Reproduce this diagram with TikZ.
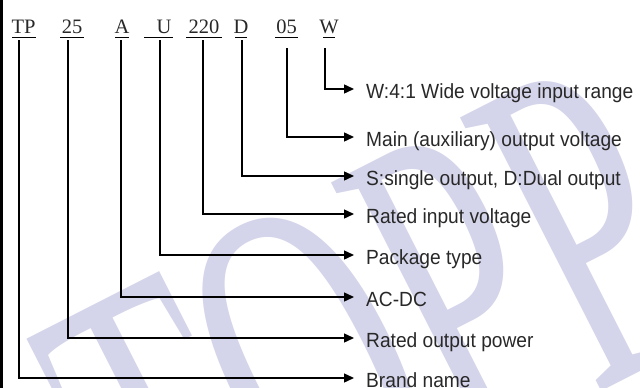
\documentclass[tikz,border=0pt]{standalone}
\usepackage{fontspec}
\usetikzlibrary{arrows.meta}
\newfontfamily\descfont[FakeStretch=0.935]{Liberation Sans}
\newfontfamily\codefont{Liberation Serif}
\newfontfamily\wmfont[FakeStretch=0.55]{Liberation Serif}
\definecolor{wm}{RGB}{212,212,234}
\definecolor{txt}{RGB}{40,40,40}
\begin{document}
\begin{tikzpicture}[x=1pt,y=-1pt,
  conn/.style={line width=1.4pt,-{Triangle[length=10pt,width=9pt]}},
  uline/.style={line width=1.3pt},
  desc/.style={font=\descfont\fontsize{20.5}{24}\selectfont,text=txt,inner sep=0pt,anchor=base west},
  code/.style={font=\codefont\fontsize{20.5}{24}\selectfont,text=txt,inner sep=0pt,anchor=base}]
\useasboundingbox (0,0) rectangle (640,388);
% watermark
\begin{scope}
\clip (0,0) rectangle (640,388);
\node[text=wm,font=\wmfont\fontsize{470}{470}\selectfont,rotate=27,inner sep=0pt] (wmark) at (372,336) {TOPP};
\end{scope}
% left border
\fill (0,0) rectangle (2.5,388);
% code letters
\node[code] (kTP) at (23.5,33.3) {TP};
\node[code] (k25) at (72,33.3) {25};
\node[code] (kA) at (122,33.3) {A};
\node[code] (kU) at (164,33.3) {U};
\node[code] (k220) at (204,33.3) {220};
\node[code] (kD) at (241,33.3) {D};
\node[code] (k05) at (286.5,33.3) {05};
\node[code] (kW) at (329,33.3) {W};
% underlines
\draw[uline] (12,37.5) -- (36,37.5);
\draw[uline] (60,37.5) -- (84,37.5);
\draw[uline] (115,37.5) -- (129,37.5);
\draw[uline] (144,37.5) -- (173,37.5);
\draw[uline] (186,37.5) -- (222,37.5);
\draw[uline] (235,37.5) -- (247,37.5);
\draw[uline] (275,37.5) -- (298,37.5);
\draw[uline] (323,37.5) -- (335,37.5);
% start points
\coordinate (sTP) at (19,40);
\coordinate (s25) at (68,40);
\coordinate (sA) at (121,40);
\coordinate (sU) at (160,40);
\coordinate (s220) at (203,40);
\coordinate (sD) at (242,40);
\coordinate (s05) at (287,48);
\coordinate (sW) at (325,48);
% arrow tips
\coordinate (aW) at (354,89);
\coordinate (a05) at (354,137);
\coordinate (aD) at (354,176);
\coordinate (a220) at (354,214);
\coordinate (aU) at (354,255);
\coordinate (aA) at (354,297);
\coordinate (a25) at (354,338);
\coordinate (aTP) at (354,378);
% descriptions
\node[desc] (dW) at ([xshift=12pt,yshift=-9.5pt]aW) {W:4:1 Wide voltage input range};
\node[desc] (d05) at ([xshift=12pt,yshift=-9.5pt]a05) {Main (auxiliary) output voltage};
\node[desc] (dD) at ([xshift=12pt,yshift=-9.5pt]aD) {S:single output, D:Dual output};
\node[desc] (d220) at ([xshift=12pt,yshift=-9.5pt]a220) {Rated input voltage};
\node[desc] (dU) at ([xshift=12pt,yshift=-9.5pt]aU) {Package type};
\node[desc] (dA) at ([xshift=12pt,yshift=-9.5pt]aA) {AC-DC};
\node[desc] (d25) at ([xshift=12pt,yshift=-9.5pt]a25) {Rated output power};
\node[desc] (dTP) at ([xshift=12pt,yshift=-9.5pt]aTP) {Brand name};
% connectors
\draw[conn] (sW) |- (aW);
\draw[conn] (s05) |- (a05);
\draw[conn] (sD) |- (aD);
\draw[conn] (s220) |- (a220);
\draw[conn] (sU) |- (aU);
\draw[conn] (sA) |- (aA);
\draw[conn] (s25) |- (a25);
\draw[conn] (sTP) |- (aTP);
\end{tikzpicture}
\end{document}
